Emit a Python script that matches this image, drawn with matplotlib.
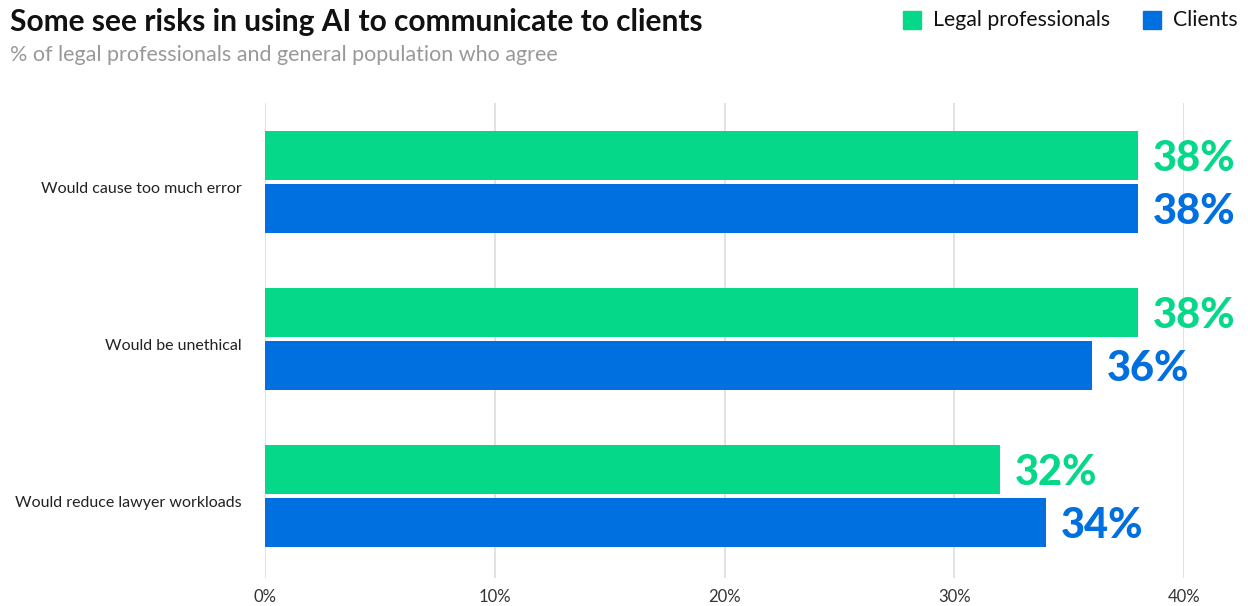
import matplotlib.pyplot as plt
import numpy as np
from matplotlib.patches import Rectangle

plt.rcParams['font.family'] = ['Lato', 'DejaVu Sans']

# Data
categories = ['Would cause too much error', 'Would be unethical', 'Would reduce lawyer workloads']
legal = [38, 38, 32]
clients = [38, 36, 34]
ticks = [0, 10, 20, 30, 40]

green = '#06D889'
blue = '#0070E0'

W, H = 1248, 606
fig = plt.figure(figsize=(W / 100, H / 100), dpi=100)
ax = fig.add_axes([265 / W, 1 - 578 / H, (1184 - 265) / W, (578 - 103) / H])

y = np.arange(len(categories))
bh = 49 / 157
off = 26.5 / 157
ax.barh(y - off, legal, height=bh, color=green, zorder=3)
ax.barh(y + off, clients, height=bh, color=blue, zorder=3)

for i in range(len(categories)):
    ax.text(legal[i] + 0.65, y[i] - off, f'{legal[i]}%', color=green, fontsize=30,
            fontweight='black', va='center_baseline', ha='left', clip_on=False)
    ax.text(clients[i] + 0.65, y[i] + off, f'{clients[i]}%', color=blue, fontsize=30,
            fontweight='black', va='center_baseline', ha='left', clip_on=False)

ax.set_xlim(0, 40)
ax.set_ylim(2.522, -0.503)
ax.set_xticks(ticks)
ax.set_xticklabels([f'{t}%' for t in ticks], fontsize=12, color='#333333')
# labels sit slightly below the group centre in the original
ax.set_yticks(y + 0.035)
ax.set_yticklabels(categories, fontsize=11.5, color='#222222', va='center_baseline')
ax.tick_params(axis='both', length=0)
ax.tick_params(axis='x', pad=8)
ax.tick_params(axis='y', pad=17)
ax.grid(axis='x', color='#dddddd', linewidth=1.2, zorder=0)
ax.yaxis.grid(False)
for s in ax.spines.values():
    s.set_visible(False)

fig.text(10 / W, 1 - 22 / H, 'Some see risks in using AI to communicate to clients',
         fontsize=21.5, fontweight='bold', color='#111111', va='center', ha='left')
fig.text(10 / W, 1 - 55 / H, '% of legal professionals and general population who agree',
         fontsize=15.5, color='#999999', va='center', ha='left')

# legend
for x0, lab, c in [(903, 'Legal professionals', green), (1143, 'Clients', blue)]:
    fig.patches.append(Rectangle((x0 / W, 1 - 29 / H), 18 / W, 18 / H,
                                 transform=fig.transFigure, color=c))
    fig.text((x0 + 30) / W, 1 - 20 / H, lab, fontsize=15.3, color='#111111',
             va='center', ha='left')

fig.savefig('out.png', dpi=100)
